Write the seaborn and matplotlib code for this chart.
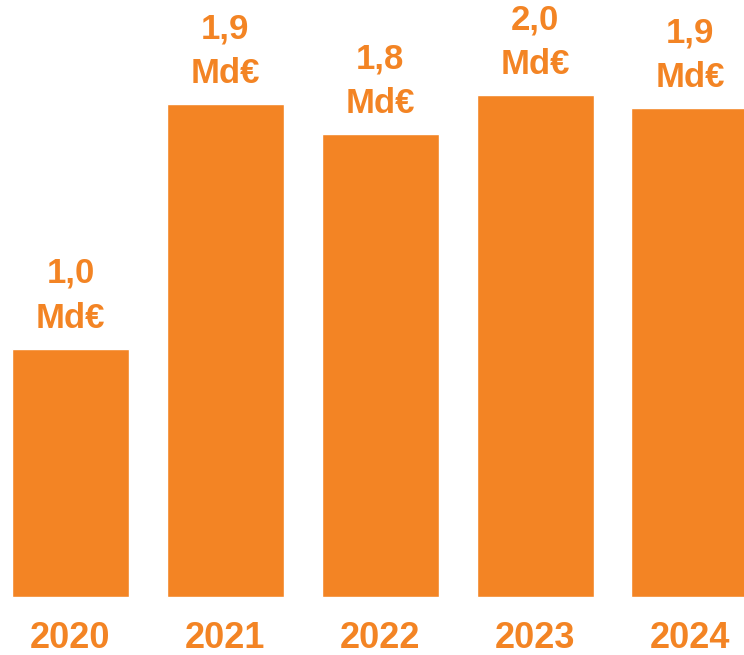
import matplotlib
matplotlib.use("Agg")
import matplotlib.pyplot as plt
import seaborn as sns
import pandas as pd

years = ["2020", "2021", "2022", "2023", "2024"]
values = [0.99, 1.965, 1.845, 2.0, 1.95]
labels = ["1,0\nMd€", "1,9\nMd€", "1,8\nMd€", "2,0\nMd€", "1,9\nMd€"]

ORANGE = "#F38424"

sns.set_theme(style="white")
plt.rcParams['font.family'] = ['Liberation Sans', 'DejaVu Sans']

df = pd.DataFrame({"year": years, "value": values})

fig = plt.figure(figsize=(7.44, 6.55), dpi=100)
ax = fig.add_axes([0, 0, 1, 1])
sns.barplot(data=df, x="year", y="value", order=years, color=ORANGE,
            width=0.755, saturation=1, ax=ax)

ax.set_xlim(-0.455, 4.349)
ax.set_ylim(-0.231, 2.379)
ax.axis("off")

for i, (v, lab, yr) in enumerate(zip(values, labels, years)):
    ax.annotate(lab, xy=(i, v), xytext=(0, 10), textcoords="offset points",
                ha="center", va="bottom", fontsize=25, fontweight="bold",
                color=ORANGE, linespacing=1.45)
    ax.text(i, -0.165, yr, ha="center", va="center", fontsize=26,
            fontweight="bold", color=ORANGE)

fig.savefig("out.png", dpi=100)
